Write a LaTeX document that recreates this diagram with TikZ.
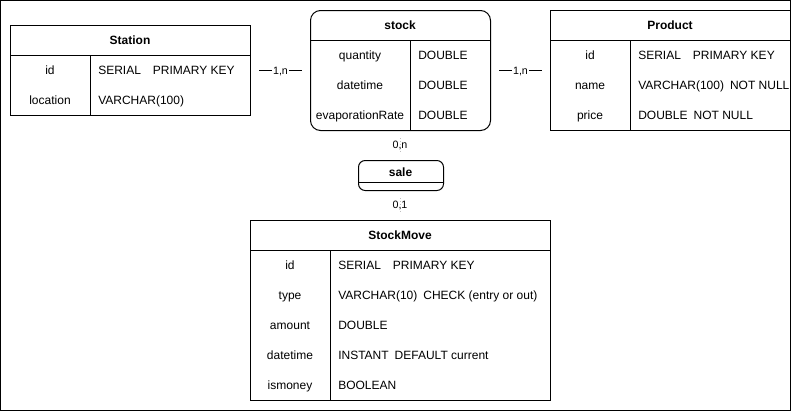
\documentclass[tikz,border=0pt]{standalone}
\usepackage{fontspec}
\setmainfont{Liberation Sans}
\begin{document}
\begin{tikzpicture}[x=0.75pt,y=-0.75pt,
  every node/.style={font=\fontsize{9pt}{11pt}\selectfont, inner sep=0pt},
  tbl/.style={draw, line width=0.75pt, anchor=north west, inner sep=0pt},
  fixh/.style={text height=6.45pt, text depth=0pt, yshift=-0.1pt},
  ttl/.style={fixh, font=\fontsize{9pt}{11pt}\selectfont\bfseries},
  key/.style={fixh, anchor=center},
  val/.style={fixh, anchor=west},
  sep/.style={line width=0.75pt},
  card/.style={fill=white, inner sep=0.5pt, text height=5.8pt, text depth=0pt, font=\fontsize{8pt}{10pt}\selectfont},
  conn/.style={line width=0.75pt}]
\useasboundingbox (0,0) rectangle (791,411);
\draw[line width=0.75pt] (0.5,0.5) rectangle (790.5,410.5);

% Station
\node[tbl, minimum width=180pt, minimum height=67.5pt] (station) at (10,25) {};
\draw[sep] (10,55) -- (250,55);
\draw[sep] (90,55) -- (90,115);
\node[ttl] (stationT) at (130,40.5) {Station};
\node[key] (s1k) at (50,70) {id};
\node[val] (s1v) at (98,70) {SERIAL\quad PRIMARY KEY};
\node[key] (s2k) at (50,100) {location};
\node[val] (s2v) at (98,100) {VARCHAR(100)};

% stock
\node[tbl, rounded corners=7.5pt, minimum width=135pt, minimum height=90pt] (stock) at (310,10) {};
\draw[sep] (310,40) -- (490,40);
\draw[sep] (410,40) -- (410,130);
\node[ttl] (stockT) at (400,25.5) {stock};
\node[key] (k1k) at (360,55) {quantity};
\node[val] (k1v) at (418,55) {DOUBLE};
\node[key] (k2k) at (360,85) {datetime};
\node[val] (k2v) at (418,85) {DOUBLE};
\node[key] (k3k) at (360,115) {evaporationRate};
\node[val] (k3v) at (418,115) {DOUBLE};

% Product
\node[tbl, minimum width=180pt, minimum height=90pt] (product) at (550,10) {};
\draw[sep] (550,40) -- (790,40);
\draw[sep] (630,40) -- (630,130);
\node[ttl] (productT) at (670,25.5) {Product};
\node[key] (p1k) at (590,55) {id};
\node[val] (p1v) at (638,55) {SERIAL\quad PRIMARY KEY};
\node[key] (p2k) at (590,85) {name};
\node[val] (p2v) at (638,85) {VARCHAR(100)\enspace NOT NULL};
\node[key] (p3k) at (590,115) {price};
\node[val] (p3v) at (638,115) {DOUBLE\enspace NOT NULL};

% sale
\node[tbl, rounded corners=5pt, minimum width=63.75pt, minimum height=22.5pt] (sale) at (358,160) {};
\draw[sep] (358,182) -- (443,182);
\node[ttl] (saleT) at (400.5,172.5) {sale};

% StockMove
\node[tbl, minimum width=225pt, minimum height=135pt] (move) at (250,220) {};
\draw[sep] (250,250) -- (550,250);
\draw[sep] (330,250) -- (330,400);
\node[ttl] (moveT) at (400,235.5) {StockMove};
\node[key] (m1k) at (290,265) {id};
\node[val] (m1v) at (338,265) {SERIAL\quad PRIMARY KEY};
\node[key] (m2k) at (290,295) {type};
\node[val] (m2v) at (338,295) {VARCHAR(10)\enspace CHECK (entry or out)};
\node[key] (m3k) at (290,325) {amount};
\node[val] (m3v) at (338,325) {DOUBLE};
\node[key] (m4k) at (290,355) {datetime};
\node[val] (m4v) at (338,355) {INSTANT\enspace DEFAULT current};
\node[key] (m5k) at (290,385) {ismoney};
\node[val] (m5v) at (338,385) {BOOLEAN};

% connectors
\draw[conn, shorten <=6pt, shorten >=6pt] (station.east |- s1k) -- node[card] (c1) {1,n} (stock.west |- s1k);
\draw[conn, shorten <=6pt, shorten >=6pt] (stock.east |- s1k) -- node[card] (c2) {1,n} (product.west |- s1k);
\coordinate (a1) at (400,138);
\coordinate (a2) at (400,152);
\draw[gray!50, line width=0.4pt, dotted] (a1) -- (a2);
\node[card, fill=none] (c3) at (400,145) {0,n};
\coordinate (b1) at (400,198);
\coordinate (b2) at (400,212);
\draw[gray!50, line width=0.4pt, dotted] (b1) -- (b2);
\node[card, fill=none] (c4) at (400,205) {0,1};
\end{tikzpicture}
\end{document}
